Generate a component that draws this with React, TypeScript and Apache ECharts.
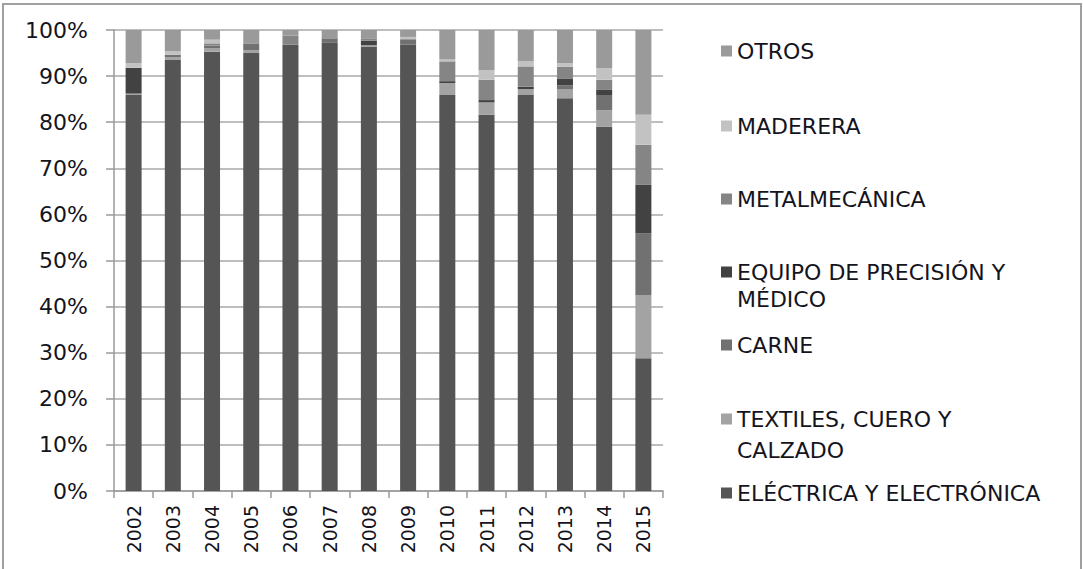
import React, { useEffect, useRef } from "react";
import * as echarts from "echarts";

const years = ["2002", "2003", "2004", "2005", "2006", "2007", "2008", "2009", "2010", "2011", "2012", "2013", "2014", "2015"];
const electrica = [85.9, 93.6, 95.3, 95.0, 96.8, 97.2, 96.4, 96.8, 85.9, 81.6, 85.9, 85.2, 79.0, 28.8];
const textiles = [0.3, 0.5, 0.8, 0.6, 0, 0, 0.3, 0, 2.6, 2.7, 1.3, 2.0, 3.6, 13.7];
const carne = [0, 0.5, 0.5, 1.5, 0, 1.0, 0, 1.2, 0, 0, 0, 0.8, 3.3, 13.4];
const equipo = [5.6, 0, 0, 0, 0, 0, 1.0, 0, 0.4, 0.5, 0.5, 1.5, 1.1, 10.5];
const metal = [0, 0, 0.5, 0, 2.0, 0, 0.5, 0, 4.3, 4.4, 4.4, 2.5, 2.2, 8.7];
const madera = [1.0, 0.8, 0.8, 0, 0, 0, 0, 0.5, 0.4, 2.1, 1.1, 0.8, 2.5, 6.5];
const otros = [7.2, 4.6, 2.1, 2.9, 1.2, 1.8, 1.8, 1.5, 6.4, 8.7, 6.8, 7.2, 8.3, 18.4];

const seriesNames = [
  "ELÉCTRICA Y ELECTRÓNICA",
  "TEXTILES, CUERO Y CALZADO",
  "CARNE",
  "EQUIPO DE PRECISIÓN Y MÉDICO",
  "METALMECÁNICA",
  "MADERERA",
  "OTROS",
];
const seriesData = [electrica, textiles, carne, equipo, metal, madera, otros];
const seriesColors = ["#555555", "#a3a3a3", "#717171", "#424242", "#858585", "#c2c2c2", "#9a9a9a"];
const legendFirstLine: Record<string, string> = {
  "TEXTILES, CUERO Y CALZADO": "TEXTILES, CUERO Y",
  "EQUIPO DE PRECISIÓN Y MÉDICO": "EQUIPO DE PRECISIÓN Y",
};
// legend item centres (y), top to bottom order
const legendOrder = ["OTROS", "MADERERA", "METALMECÁNICA", "EQUIPO DE PRECISIÓN Y MÉDICO", "CARNE", "TEXTILES, CUERO Y CALZADO", "ELÉCTRICA Y ELECTRÓNICA"];
const legendY = [52, 127, 200, 273, 346, 420, 494];

const FONT = "DejaVu Sans";
const TEXT_COLOR = "#141420";

export default function App() {
  const ref = useRef<HTMLDivElement>(null);
  useEffect(() => {
    if (!ref.current) return;
    const chart = echarts.init(ref.current, undefined, { renderer: "svg" });
    const option: any = {
      animation: false,
      backgroundColor: "#ffffff",
      grid: { left: 114, top: 30, right: 420, bottom: 78, containLabel: false },
      xAxis: {
        type: "category",
        data: years,
        axisLine: { lineStyle: { color: "#9a9a9a", width: 1.5 } },
        axisTick: { show: true, alignWithLabel: false, length: 7, lineStyle: { color: "#9a9a9a", width: 1.5 } },
        axisLabel: { rotate: 90, margin: 14, fontSize: 19, fontFamily: FONT, color: TEXT_COLOR },
        splitLine: { show: false },
      },
      yAxis: {
        type: "value",
        min: 0,
        max: 100,
        interval: 10,
        axisLine: { show: true, lineStyle: { color: "#9a9a9a", width: 1.5 } },
        axisTick: { show: true, length: 8, lineStyle: { color: "#9a9a9a", width: 1.5 } },
        axisLabel: { formatter: "{value}%", margin: 26, fontSize: 22, fontFamily: FONT, color: TEXT_COLOR },
        splitLine: { show: true, lineStyle: { color: "#a8a8a8", width: 1.5 } },
      },
      legend: legendOrder.map((name, i) => ({
        data: [name],
        left: 721,
        top: legendY[i] - 12,
        padding: 0,
        orient: "vertical",
        icon: "rect",
        itemWidth: 11,
        itemHeight: 11,
        selectedMode: false,
        textStyle: { fontSize: 22, fontFamily: FONT, color: TEXT_COLOR },
        formatter: (n: string) => legendFirstLine[n] || n,
      })),
      series: seriesNames.map((name, i) => ({
        name,
        type: "bar",
        stack: "total",
        barWidth: 16,
        data: seriesData[i],
        itemStyle: { color: seriesColors[i] },
      })),
      graphic: [
        {
          type: "rect",
          shape: { x: 3, y: 4, width: 1078, height: 620 },
          style: { fill: "none", stroke: "#a0a0a0", lineWidth: 2 },
          silent: true,
        },
        {
          type: "text",
          x: 737,
          y: 299,
          style: { text: "MÉDICO", fill: TEXT_COLOR, font: `22px "${FONT}"`, verticalAlign: "middle" },
        },
        {
          type: "text",
          x: 737,
          y: 450,
          style: { text: "CALZADO", fill: TEXT_COLOR, font: `22px "${FONT}"`, verticalAlign: "middle" },
        },
      ],
    };
    chart.setOption(option);
    return () => chart.dispose();
  }, []);
  return <div ref={ref} style={{ position: "fixed", left: 0, top: 0, width: 1083, height: 569 }} />;
}
